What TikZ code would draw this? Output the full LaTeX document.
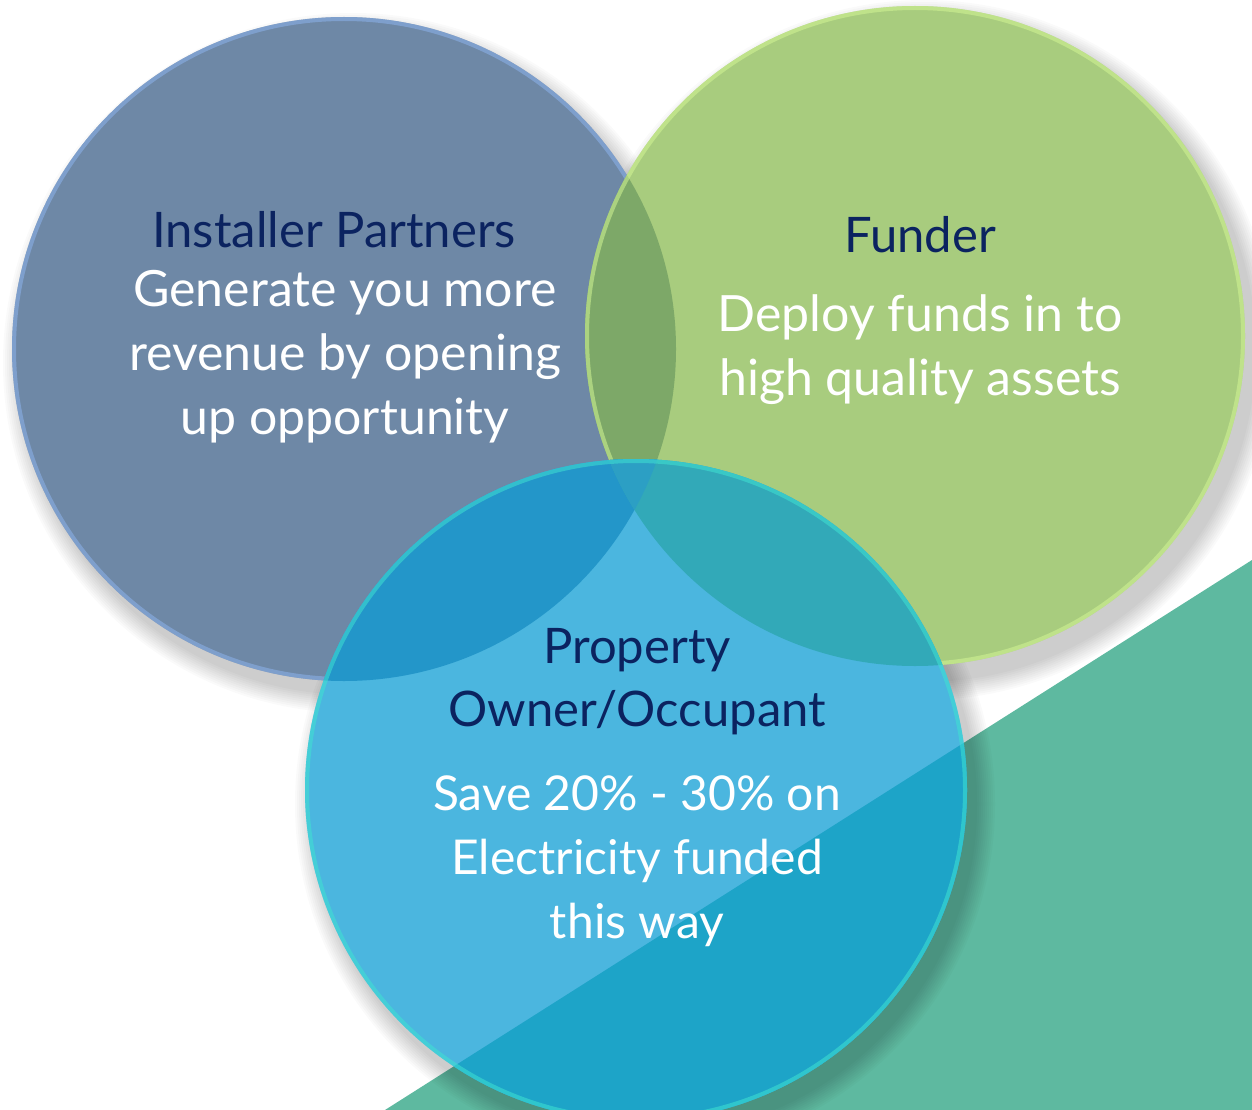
\documentclass[tikz,border=0pt]{standalone}
\usepackage{fontspec}
\setmainfont{Lato}
\usetikzlibrary{positioning}

\definecolor{slateblue}{HTML}{6E88A6}
\definecolor{slaterim}{HTML}{8CB2EC}
\definecolor{leafgreen}{HTML}{A8CC7E}
\definecolor{leafrim}{HTML}{D2F594}
\definecolor{skyblue}{HTML}{4BB6DF}
\definecolor{skyrim}{HTML}{3FE2D2}
\definecolor{slateleaf}{HTML}{7DA868}
\definecolor{skyslate}{HTML}{2396C9}
\definecolor{skyleaf}{HTML}{32A9B8}
\definecolor{skyall}{HTML}{2C9FC4}
\definecolor{skysea}{HTML}{1DA4C8}
\definecolor{seagreen}{HTML}{5EB9A0}
\definecolor{navytext}{HTML}{0B2360}

\tikzset{
  heading/.style={text=navytext, font=\fontsize{49}{63}\selectfont, align=center},
  blurb/.style={text=white, font=\fontsize{50}{64}\selectfont, align=center},
  rim/.style={line width=4pt, draw opacity=0.55},
}

\begin{document}
\begin{tikzpicture}[x=1pt,y=-1pt]
  \useasboundingbox (0,0) rectangle (1252,1110);
  \clip (0,0) rectangle (1252,1110);
  \fill[white] (0,0) rectangle (1252,1110);

  % corner wedge
  \fill[seagreen] (385,1110) -- (1252,560) -- (1252,1110) -- cycle;

  % centres
  \coordinate (installer) at (344,349);
  \coordinate (funder) at (915,336);
  \coordinate (owner) at (636,790);

  % soft shadows
  \foreach \c in {installer, funder, owner}{
    \foreach \k in {1,...,10}
      \fill[black, opacity=0.02] ([shift={(9,14)}]\c) circle ({330pt+2pt*\k});
  }

  % installer circle
  \fill[slateblue] (installer) circle (332pt);
  \draw[slaterim, rim] (installer) circle (330pt);

  % funder circle
  \fill[leafgreen] (funder) circle (330pt);
  \begin{scope}
    \clip (installer) circle (332pt);
    \fill[slateleaf] (funder) circle (330pt);
  \end{scope}
  \draw[leafrim, rim] (funder) circle (328pt);

  % owner circle
  \fill[skyblue] (owner) circle (331pt);
  \begin{scope}
    \clip (owner) circle (331pt);
    \fill[skyslate] (installer) circle (332pt);
    \fill[skyleaf] (funder) circle (330pt);
    \begin{scope}
      \clip (installer) circle (332pt);
      \fill[skyall] (funder) circle (330pt);
    \end{scope}
    \fill[skysea] (385,1110) -- (1252,560) -- (1252,1110) -- cycle;
  \end{scope}
  \draw[skyrim, rim] (owner) circle (329pt);

  % texts
  \node[heading] (installertitle) at (334,230) {Installer Partners};
  \node[blurb] (installertext) at (345,357) {Generate you more\\revenue by opening\\up opportunity};

  \node[heading] (fundertitle) at (920,235) {Funder};
  \node[blurb] (fundertext) at (920,350) {Deploy funds in to\\high quality assets};

  \node[heading] (ownertitle) at (637,682) {Property\\Owner/Occupant};
  \node[blurb, font=\fontsize{48}{64}\selectfont] (ownertext) at (637,861) {Save 20\% - 30\% on\\Electricity funded\\this way};
\end{tikzpicture}
\end{document}
